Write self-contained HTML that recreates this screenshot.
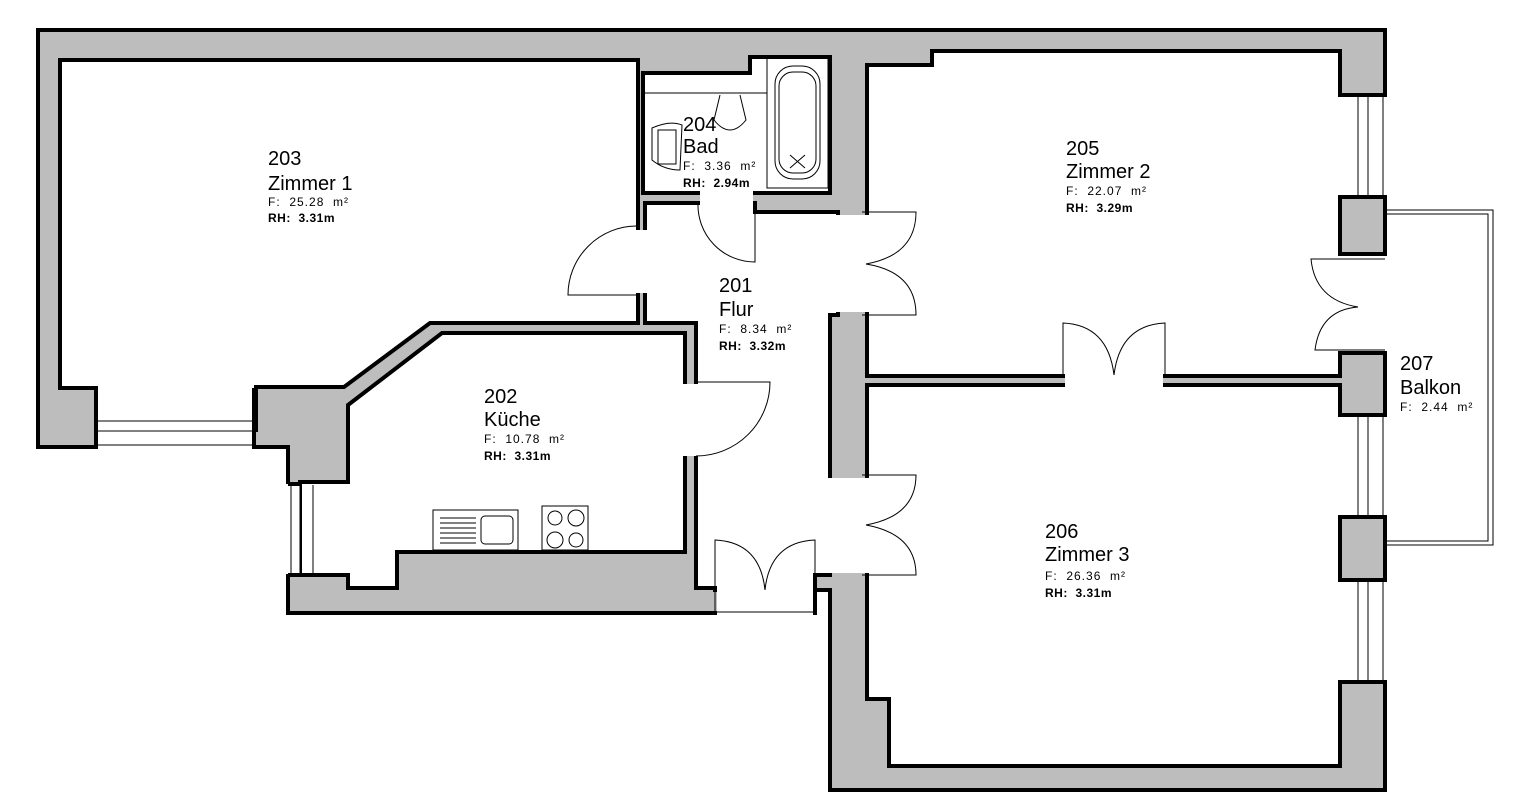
<!DOCTYPE html>
<html><head><meta charset="utf-8"><style>
html,body{margin:0;padding:0;background:#fff;}
svg{display:block;}
text{font-family:"Liberation Sans",sans-serif;fill:#000;white-space:pre;}
.n{font-size:20px;}
.f{font-size:12px;letter-spacing:1px;}
.r{font-size:12px;font-weight:bold;letter-spacing:0.5px;}
</style></head><body>
<svg width="1528" height="810" viewBox="0 0 1528 810" xmlns="http://www.w3.org/2000/svg" xml:space="preserve">
<polygon points="38,30 1385,30 1385,790 830,790 830,590 815,590 815,613 288,613 288,447 38,447" fill="#bdbdbd" stroke="#000" stroke-width="4"/>
<g fill="#fff" stroke="#000" stroke-width="4" stroke-linejoin="miter">
<polygon points="60,60 638,60 638,323 430,323 344,387 256,387 256,430 96,430 96,388 60,388"/>
<polygon points="643,73 750,73 750,57 830,57 830,193 643,193"/>
<polygon points="645,203 755,203 755,212 838,212 838,315 830,315 830,575 815,575 815,590 715,590 715,588 696,588 696,323 645,323"/>
<polygon points="442,333 685,333 685,552 397,552 397,588 348,588 348,575 300,575 300,482 348,482 348,405"/>
<polygon points="867,65 932,65 932,51 1340,51 1340,376 867,376"/>
<polygon points="867,385 1340,385 1340,766 889,766 889,699 867,699"/>
</g>
<g fill="#fff">
<rect x="634" y="230" width="14" height="63"/>
<rect x="700" y="190" width="53" height="16"/>
<rect x="682" y="384" width="17" height="72"/>
<rect x="834" y="215" width="36" height="97"/>
<rect x="826" y="478" width="44" height="95"/>
<rect x="1065" y="372" width="98" height="17"/>
<rect x="717" y="586" width="96" height="29"/>
<rect x="1336" y="97" width="52" height="98"/>
<rect x="1336" y="256" width="52" height="95"/>
<rect x="1336" y="417" width="52" height="98"/>
<rect x="1336" y="582" width="52" height="98"/>
<rect x="98" y="416" width="154" height="33"/>
<rect x="286" y="484" width="14" height="90"/>
</g>
<g stroke="#000" stroke-width="4" fill="none">
<line x1="1340" y1="95" x2="1387" y2="95"/><line x1="1340" y1="197" x2="1387" y2="197"/>
<line x1="1340" y1="254" x2="1387" y2="254"/><line x1="1340" y1="353" x2="1387" y2="353"/>
<line x1="1340" y1="415" x2="1387" y2="415"/><line x1="1340" y1="517" x2="1387" y2="517"/>
<line x1="1340" y1="580" x2="1387" y2="580"/><line x1="1340" y1="682" x2="1387" y2="682"/>
<line x1="96" y1="418" x2="96" y2="449"/><line x1="254" y1="388" x2="254" y2="449"/>
<line x1="288" y1="484" x2="300" y2="484"/><line x1="288" y1="575" x2="300" y2="575"/>
</g>
<g stroke="#000" stroke-width="1" fill="none">
<line x1="98" y1="421" x2="252" y2="421"/><line x1="98" y1="431" x2="252" y2="431"/><line x1="98" y1="445" x2="252" y2="445"/>
<line x1="291" y1="485" x2="291" y2="574"/><line x1="300" y1="485" x2="300" y2="574"/><line x1="313" y1="485" x2="313" y2="574"/>
<line x1="1358" y1="95" x2="1358" y2="197"/><line x1="1368" y1="95" x2="1368" y2="197"/><line x1="1383" y1="95" x2="1383" y2="197"/>
<line x1="1358" y1="415" x2="1358" y2="517"/><line x1="1368" y1="415" x2="1368" y2="517"/><line x1="1383" y1="415" x2="1383" y2="517"/>
<line x1="1358" y1="580" x2="1358" y2="682"/><line x1="1368" y1="580" x2="1368" y2="682"/><line x1="1383" y1="580" x2="1383" y2="682"/>
<polyline points="1385,210 1493,210 1493,545 1385,545"/>
<polyline points="1385,214 1488,214 1488,541 1385,541"/>
<line x1="715" y1="612" x2="815" y2="612"/>
<path d="M637,295 L568,295 A69,69 0 0 1 637,226"/>
<path d="M755,203 L755,262 A57,57 0 0 1 698,203"/>
<path d="M696,382 L770,382 A74,74 0 0 1 696,456"/>
<path d="M862,212 L916,212 Q916,255 866,264 Q916,272 916,315 L862,315"/>
<path d="M862,475 L916,475 Q916,516 866,525 Q916,534 916,575 L862,575"/>
<path d="M1063,376 L1063,323 Q1108,325 1114,375 Q1120,325 1165,323 L1165,376"/>
<path d="M715,612 L715,540 Q760,542 765,590 Q770,542 815,540 L815,612"/>
<path d="M1385,259 L1311,259 Q1315,300 1358,307 Q1320,310 1315,350 L1385,350"/>
<line x1="643" y1="93" x2="767" y2="93"/>
<rect x="767" y="57" width="61" height="131"/>
<rect x="775" y="66" width="45" height="113" rx="18"/>
<rect x="779" y="72" width="37" height="101" rx="14"/>
<path d="M790,155 L805,168 M805,155 L790,168"/>
<path d="M720,95 L714,120 Q730,140 746,120 L740,95"/>
<path d="M652,128 Q670,120 682,125 L680,170 Q664,170 652,160 Z"/>
<rect x="658" y="130" width="18" height="34"/>
<rect x="433" y="510" width="85" height="40"/>
<rect x="481" y="516" width="32" height="28" rx="4"/>
<g><line x1="440" y1="518" x2="476" y2="518"/><line x1="440" y1="523" x2="476" y2="523"/><line x1="440" y1="528" x2="476" y2="528"/><line x1="440" y1="533" x2="476" y2="533"/><line x1="440" y1="538" x2="476" y2="538"/><line x1="440" y1="543" x2="476" y2="543"/></g>
<rect x="542" y="506" width="46" height="44"/>
<circle cx="555" cy="518" r="7"/><circle cx="576" cy="518" r="8"/><circle cx="555" cy="540" r="8"/><circle cx="576" cy="540" r="7"/>
</g>
<text class="n" x="268" y="165">203</text><text class="n" x="268" y="190">Zimmer 1</text>
<text class="f" x="268" y="206">F:  25.28  m²</text><text class="r" x="268" y="222">RH:  3.31m</text>
<text class="n" x="683" y="131">204</text><text class="n" x="683" y="153">Bad</text>
<text class="f" x="683" y="170">F:  3.36  m²</text><text class="r" x="683" y="187">RH:  2.94m</text>
<text class="n" x="719" y="292">201</text><text class="n" x="719" y="316">Flur</text>
<text class="f" x="719" y="333">F:  8.34  m²</text><text class="r" x="719" y="350">RH:  3.32m</text>
<text class="n" x="484" y="403">202</text><text class="n" x="484" y="426">Küche</text>
<text class="f" x="484" y="443">F:  10.78  m²</text><text class="r" x="484" y="460">RH:  3.31m</text>
<text class="n" x="1066" y="155">205</text><text class="n" x="1066" y="178">Zimmer 2</text>
<text class="f" x="1066" y="195">F:  22.07  m²</text><text class="r" x="1066" y="212">RH:  3.29m</text>
<text class="n" x="1045" y="538">206</text><text class="n" x="1045" y="561">Zimmer 3</text>
<text class="f" x="1045" y="580">F:  26.36  m²</text><text class="r" x="1045" y="597">RH:  3.31m</text>
<text class="n" x="1400" y="370">207</text><text class="n" x="1400" y="394">Balkon</text>
<text class="f" x="1400" y="411">F:  2.44  m²</text>
</svg>
</body></html>
